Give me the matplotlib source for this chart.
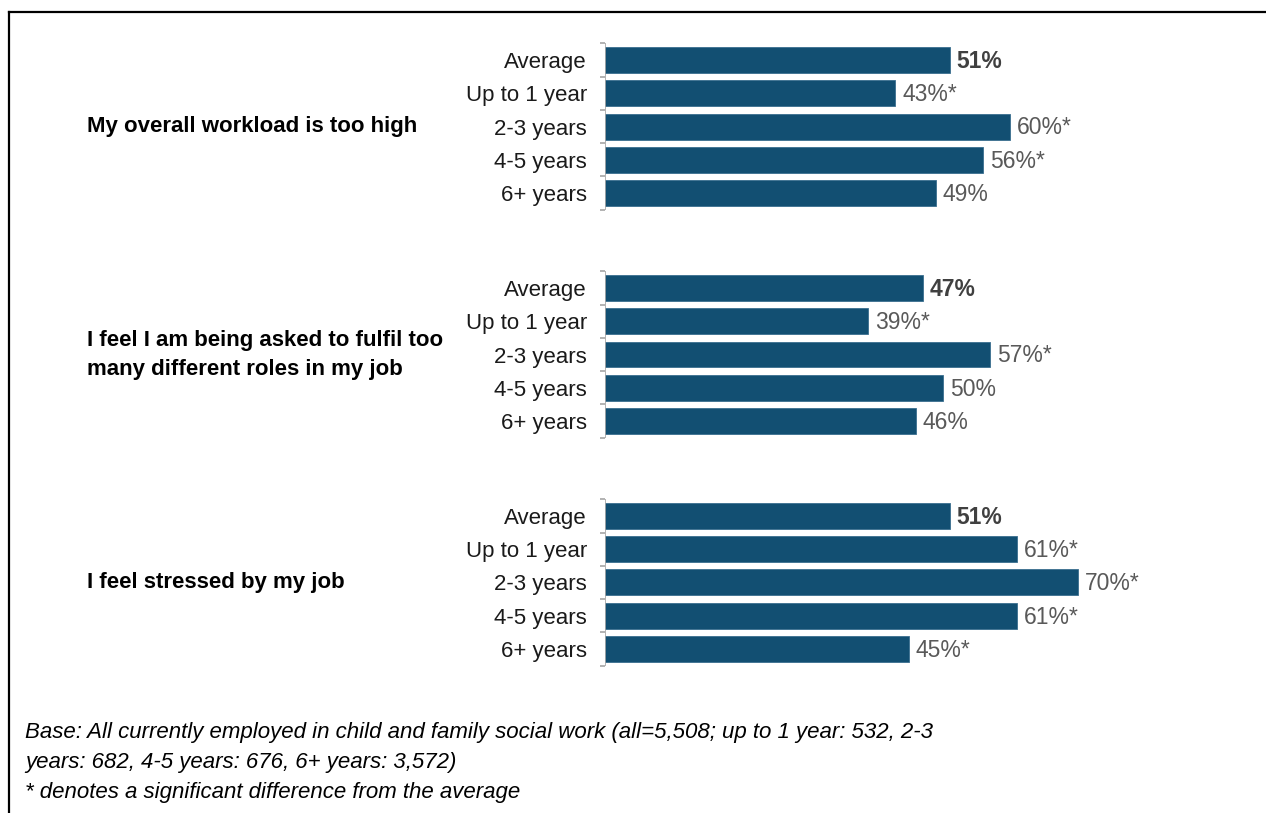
import numpy as np
import matplotlib
matplotlib.use("Agg")
import matplotlib.pyplot as plt
from matplotlib.lines import Line2D

plt.rcParams['font.family'] = ['Liberation Sans', 'DejaVu Sans']

# Данные
statements = ["My overall workload is too high",
              "I feel I am being asked to fulfil too\nmany different roles in my job",
              "I feel stressed by my job"]
categories = ["Average", "Up to 1 year", "2-3 years", "4-5 years", "6+ years"]
workload = [51, 43, 60, 56, 49]
workload_sig = [False, True, True, True, False]
roles = [47, 39, 57, 50, 46]
roles_sig = [False, True, True, False, False]
stressed = [51, 61, 70, 61, 45]
stressed_sig = [False, True, True, True, True]

footnote = ("Base: All currently employed in child and family social work (all=5,508; up to 1 year: 532, 2-3\n"
            "years: 682, 4-5 years: 676, 6+ years: 3,572)\n"
            "* denotes a significant difference from the average")

series = [workload, roles, stressed]
sigs = [workload_sig, roles_sig, stressed_sig]

bar_color = '#124F72'
group_step = 6.85  # расстояние между группами (в строках)

W, H = 1266, 813
fig = plt.figure(figsize=(W / 100, H / 100), dpi=100)
ax = fig.add_axes([605 / W, 1 - 682.3 / H, (1213 - 605) / W, (682.3 - 26.7) / H])

ys, labels = [], []
for g, (vals, sig) in enumerate(zip(series, sigs)):
    y = g * group_step + np.arange(len(categories))
    ax.barh(y, vals, height=0.78, color=bar_color, edgecolor='#3A6E8F', linewidth=0.6)
    for yi, v, s, c in zip(y, vals, sig, categories):
        if c == "Average":
            ax.annotate(f"{v}%", xy=(v, yi), xytext=(5, -1), textcoords='offset points',
                        va='center', ha='left', fontsize=16.5, fontweight='bold', color='#404040')
        else:
            ax.annotate(f"{v}%" + ("*" if s else ""), xy=(v, yi), xytext=(5, -1),
                        textcoords='offset points', va='center', ha='left',
                        fontsize=16.5, color='#595959')
    # ось группы с делениями
    ax.vlines(0, y[0] - 0.5, y[-1] + 0.5, color='#A6A6A6', linewidth=1.2)
    ax.hlines(np.arange(len(categories) + 1) + y[0] - 0.5, -0.8, 0, color='#A6A6A6', linewidth=1.2,
              clip_on=False)
    ys.extend(y)
    labels.extend(categories)
    # заголовок группы
    ax.annotate(statements[g], xy=(0, y[2]), xycoords=('figure fraction', 'data'),
                xytext=(87, 0), textcoords='offset pixels', ha='left', va='center',
                fontsize=16, fontweight='bold', color='black', linespacing=1.5)

ax.set_yticks(ys)
ax.set_yticklabels(labels, fontsize=16, color='#1A1A1A')
ax.tick_params(axis='y', length=0, pad=13)
ax.set_xticks([])
ax.set_xlim(0, 90)
ax.set_ylim(2 * group_step + 4 + 1, -1)
for sp in ax.spines.values():
    sp.set_visible(False)

# сноска
fig.text(25 / W, 1 - 722 / H, footnote, ha='left', va='top', fontsize=16,
         fontstyle='italic', color='black', linespacing=1.57)

# рамка (верх и лево)
fig.add_artist(Line2D([9 / W, 1], [1 - 12 / H, 1 - 12 / H], color='black', linewidth=1.6))
fig.add_artist(Line2D([9 / W, 9 / W], [0, 1 - 12 / H], color='black', linewidth=1.6))

fig.savefig("out.png", dpi=100)
